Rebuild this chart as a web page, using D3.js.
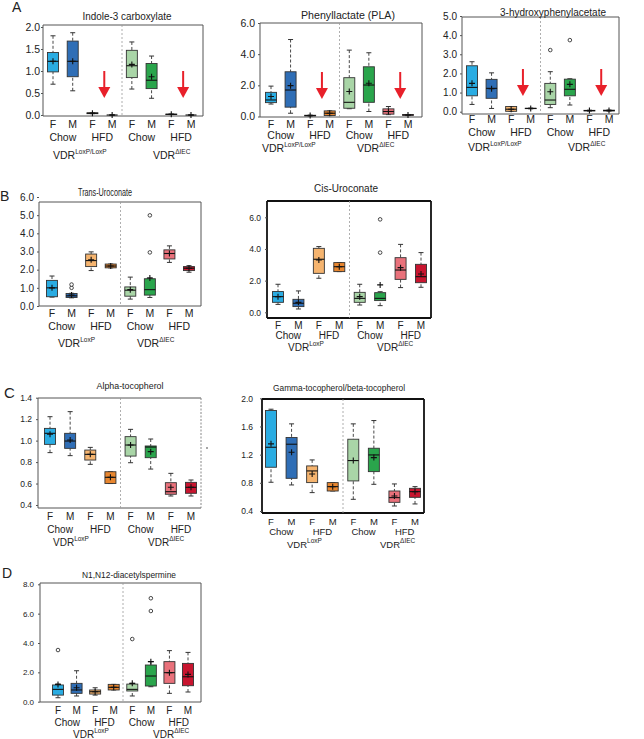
<!DOCTYPE html>
<html>
<head>
<meta charset="utf-8">
<script src="https://cdn.jsdelivr.net/npm/d3@7"></script>
<style>
body { margin: 0; background: #fff; }
svg text { font-family: "Liberation Sans", Arial, sans-serif; fill: #222; }
</style>
</head>
<body>
<div id="g-container"></div>
<script>

var groups = ["F-Chow-LoxP", "M-Chow-LoxP", "F-HFD-LoxP", "M-HFD-LoxP", "F-Chow-dIEC", "M-Chow-dIEC", "F-HFD-dIEC", "M-HFD-dIEC"];
var sexes = ["F", "M", "F", "M", "F", "M", "F", "M"];
var diets = ["Chow", "HFD", "Chow", "HFD"];
var colors = ["#2aace2", "#2f6eb6", "#f5b46f", "#e8862f", "#a9d5a7", "#2aa54c", "#e9717b", "#c8152f"];

// each row: [low whisker, q1, median, q3, high whisker, mean]
var indoleStats = [
	[0.70, 0.98, 1.22, 1.42, 1.80, 1.22],
	[0.55, 0.87, 1.22, 1.68, 1.87, 1.22],
	[0.03, 0.03, 0.04, 0.05, 0.05, 0.04],
	[0, 0, 0, 0, 0, 0],
	[0.59, 0.85, 1.12, 1.47, 1.66, 1.15],
	[0.38, 0.60, 0.79, 1.17, 1.34, 0.87],
	[0.01, 0.01, 0.015, 0.02, 0.02, 0.015],
	[0, 0, 0, 0, 0, 0]
];
var plaStats = [
	[0.80, 0.89, 1.06, 1.55, 1.95, 1.28],
	[0.21, 0.60, 1.70, 2.87, 4.94, 1.98],
	[0.03, 0.04, 0.06, 0.08, 0.09, 0.06],
	[0.06, 0.06, 0.21, 0.36, 0.36, 0.21],
	[0.50, 0.53, 0.91, 2.49, 4.26, 1.60],
	[0.32, 0.91, 2.02, 3.19, 4.09, 2.13],
	[0.12, 0.15, 0.32, 0.49, 0.64, 0.32],
	[0.06, 0.08, 0.10, 0.12, 0.13, 0.10]
];
var hpaStats = [
	[0.38, 0.83, 1.27, 2.40, 2.61, 1.48],
	[0.17, 0.70, 1.22, 1.69, 2.03, 1.20],
	[0.02, 0.02, 0.13, 0.27, 0.27, 0.13],
	[0.15, 0.16, 0.17, 0.18, 0.19, 0.17],
	[0.21, 0.38, 0.61, 1.48, 2.09, 1.04],
	[0.35, 0.83, 1.17, 1.70, 1.72, 1.43],
	[0.03, 0.04, 0.06, 0.07, 0.08, 0.06],
	[0.03, 0.04, 0.06, 0.08, 0.09, 0.06]
];
var hpaOutliers = [[4, 3.22], [5, 3.74]];

var transStats = [
	[0.49, 0.51, 1.00, 1.41, 1.65, 1.00],
	[0.45, 0.47, 0.56, 0.69, 0.70, 0.60],
	[1.95, 2.17, 2.50, 2.86, 2.98, 2.55],
	[2.10, 2.10, 2.20, 2.31, 2.31, 2.20],
	[0.38, 0.54, 0.87, 1.05, 1.59, 0.90],
	[0.47, 0.60, 0.90, 1.50, 1.54, 1.54],
	[2.40, 2.59, 2.89, 3.09, 3.31, 2.89],
	[1.86, 1.95, 2.08, 2.17, 2.22, 2.08]
];
var transOutliers = [[1, 1.0], [1, 1.18], [5, 4.99], [5, 2.95]];

var cisStats = [
	[0.50, 0.63, 0.99, 1.31, 1.77, 0.99],
	[0.21, 0.36, 0.57, 0.82, 1.35, 0.63],
	[2.15, 2.46, 3.35, 4.04, 4.15, 3.30],
	[2.57, 2.57, 2.88, 3.14, 3.14, 2.88],
	[0.46, 0.63, 0.88, 1.26, 1.77, 0.99],
	[0.42, 0.74, 0.88, 1.24, 1.30, 1.73],
	[1.56, 2.08, 2.67, 3.45, 4.29, 2.82],
	[1.58, 1.87, 2.25, 3.03, 3.77, 2.42]
];
var cisOutliers = [[5, 5.87], [5, 3.77]];

var alphaStats = [
	[0.888, 0.965, 1.068, 1.114, 1.223, 1.06],
	[0.86, 0.928, 0.996, 1.068, 1.27, 1.006],
	[0.779, 0.819, 0.872, 0.912, 0.937, 0.872],
	[0.60, 0.60, 0.658, 0.71, 0.71, 0.658],
	[0.794, 0.856, 0.959, 1.037, 1.105, 0.959],
	[0.735, 0.841, 0.94, 0.95, 1.015, 0.897],
	[0.484, 0.50, 0.524, 0.608, 0.695, 0.565],
	[0.484, 0.509, 0.565, 0.611, 0.633, 0.565]
];
var gammaStats = [
	[0.808, 1.021, 1.305, 1.827, 1.845, 1.353],
	[0.77, 0.864, 1.348, 1.443, 1.637, 1.234],
	[0.661, 0.803, 0.969, 1.04, 1.125, 0.926],
	[0.684, 0.684, 0.746, 0.803, 0.803, 0.746],
	[0.566, 0.827, 1.116, 1.419, 1.637, 1.116],
	[0.779, 0.959, 1.196, 1.291, 1.684, 1.158],
	[0.471, 0.523, 0.59, 0.684, 0.784, 0.613],
	[0.50, 0.594, 0.675, 0.722, 0.746, 0.675]
];
var spermStats = [
	[0.27, 0.45, 0.84, 1.14, 1.20, 1.18],
	[0.39, 0.57, 0.80, 1.25, 2.11, 0.95],
	[0.45, 0.52, 0.68, 0.80, 0.95, 0.68],
	[0.80, 0.80, 0.98, 1.18, 1.18, 0.98],
	[0.39, 0.73, 0.84, 1.20, 1.25, 1.25],
	[1.02, 1.07, 1.75, 2.50, 2.73, 2.73],
	[0.57, 1.25, 1.98, 2.73, 3.48, 1.98],
	[0.66, 1.09, 1.70, 2.61, 3.36, 1.86]
];
var spermOutliers = [[0, 3.52], [4, 4.27], [5, 7.05], [5, 6.18]];

// ---- layout per panel
var panels = [
	{title: "Indole-3 carboxylate", stats: indoleStats, outliers: [], arrows: true,
	 frame: [43, 203, 25, 116], yd: [0, 2], yr: [115, 27], ticks: [0, 0.5, 1, 1.5, 2], tfs: 10.5, tpad: 1,
	 cx: [53, 191], ttl: [127, 20, 89, 10], lab: [128, 141, 159], lfs: 10.5, vdr: [53, 153], sup: "LoxP/LoxP"},
	{title: "Phenyllactate (PLA)", stats: plaStats, outliers: [], arrows: true,
	 frame: [260, 422, 23, 117], yd: [0, 6], yr: [116.5, 23], ticks: [0, 2, 4, 6], tfs: 10.5, tpad: 3,
	 cx: [271, 408], ttl: [348, 19, 94, 10], lab: [128, 139, 152], lfs: 10.5, vdr: [262, 357], sup: "LoxP/LoxP"},
	{title: "3-hydroxyphenylacetate", stats: hpaStats, outliers: hpaOutliers, arrows: true,
	 frame: [462, 619, 17, 114], yd: [0, 5], yr: [111.7, 16], ticks: [0, 1, 2, 3, 4, 5], tfs: 10, tpad: 3,
	 cx: [472, 609], ttl: [553, 16, 106, 10], lab: [123, 136, 151], lfs: 10.5, vdr: [468, 568], sup: "LoxP/LoxP"},
	{title: "Trans-Uroconate", stats: transStats, outliers: transOutliers,
	 frame: [39, 201, 202, 306], yd: [0, 6], yr: [306, 197], ticks: [0, 1, 2, 3, 4, 5, 6], tfs: 10, tpad: 3,
	 cx: [52, 189], ttl: [105, 196, 54, 10.5], lab: [317, 330, 347], lfs: 10.5, vdr: [58, 137], sup: "LoxP"},
	{title: "Cis-Uroconate", stats: cisStats, outliers: cisOutliers, heavy: true,
	 frame: [267, 431, 201, 318], yd: [0, 6], yr: [312.3, 217.3], ticks: [0, 2, 4, 6], tfs: 8.5, tpad: 4,
	 cx: [278, 421], ttl: [346, 192, 64, 10], lab: [329, 339, 351], lfs: 10, vdr: [288, 377], sup: "LoxP"},
	{title: "Alpha-tocopherol", stats: alphaStats, outliers: [], dotted: true,
	 frame: [38, 201, 398, 508], yd: [0.4, 1.4], yr: [505, 397.7], ticks: [0.4, 0.6, 0.8, 1.0, 1.2, 1.4], tfs: 8.5, tpad: 4,
	 cx: [50, 191], ttl: [130, 389, 67, 9], lab: [520, 533, 546], lfs: 10, vdr: [53, 148], sup: "LoxP"},
	{title: "Gamma-tocopherol/beta-tocopherol", stats: gammaStats, outliers: [], heavy: true,
	 frame: [262, 424, 399, 513], yd: [0.4, 2.0], yr: [511, 398.3], ticks: [0.4, 0.8, 1.2, 1.6, 2.0], tfs: 8.5, tpad: 7,
	 cx: [271, 415], ttl: [339, 391, 132, 9], lab: [525, 535, 548], lfs: 9.5, vdr: [287, 380], sup: "LoxP"},
	{title: "N1,N12-diacetylspermine", stats: spermStats, outliers: spermOutliers,
	 frame: [40, 201, 583, 702], yd: [0, 8], yr: [701.7, 584.3], ticks: [0, 2, 4, 6, 8], tfs: 8, tpad: 4,
	 cx: [58, 188], ttl: [129, 578, 94, 9], lab: [714, 726, 738], lfs: 10, vdr: [73, 153], sup: "LoxP"}
];

var letters = [["A", 12, 12, 14], ["B", 0, 201, 14], ["C", 4, 398, 15], ["D", 2, 578, 14]];

var svg = d3.select("#g-container").append("svg").attr("width", 644).attr("height", 739);

letters.forEach(function(l){
	svg.append("text").attr("x", l[1]).attr("y", l[2]).style("font-size", l[3] + "px").text(l[0]);
});

function drawPanel(p){
	var g = svg.append("g");
	var f = p.frame;
	var y = d3.scaleLinear().domain(p.yd).range(p.yr);
	var x = d3.scalePoint().domain(groups).range(p.cx);
	var hw = 5.5;

	// frame
	var fc = p.heavy ? "#111" : "#555";
	var fw = p.heavy ? 1.8 : 1;
	g.append("line").attr("x1", f[0]).attr("x2", f[1]).attr("y1", f[2]).attr("y2", f[2]).attr("stroke", fc).attr("stroke-width", fw);
	g.append("line").attr("x1", f[0]).attr("x2", f[1]).attr("y1", f[3]).attr("y2", f[3]).attr("stroke", fc).attr("stroke-width", fw);
	g.append("line").attr("x1", f[0]).attr("x2", f[0]).attr("y1", f[2]).attr("y2", f[3]).attr("stroke", fc).attr("stroke-width", fw);
	g.append("line").attr("x1", f[1]).attr("x2", f[1]).attr("y1", f[2]).attr("y2", f[3])
		.attr("stroke", p.dotted ? "#888" : fc).attr("stroke-width", fw)
		.attr("stroke-dasharray", p.dotted ? "2,1.5" : null);

	// divider between genotypes
	var dx = (x(groups[3]) + x(groups[4])) / 2;
	g.append("line").attr("x1", dx).attr("x2", dx).attr("y1", f[2]).attr("y2", f[3])
		.attr("stroke", "#9a9a9a").attr("stroke-width", 0.8).attr("stroke-dasharray", "2,2");

	// y axis
	var ax = g.append("g").attr("transform", "translate(" + f[0] + ",0)")
		.call(d3.axisLeft(y).tickValues(p.ticks).tickFormat(d3.format(".1f")).tickSize(2).tickPadding(p.tpad));
	ax.select(".domain").remove();
	ax.selectAll("line").attr("stroke", "#555");
	ax.selectAll("text").style("font-size", p.tfs + "px").style("font-family", "'Liberation Sans', Arial, sans-serif").attr("fill", "#222");

	// title
	g.append("text").attr("x", p.ttl[0]).attr("y", p.ttl[1]).attr("text-anchor", "middle")
		.attr("textLength", p.ttl[2]).attr("lengthAdjust", "spacingAndGlyphs")
		.style("font-size", p.ttl[3] + "px").text(p.title);

	// boxes
	var box = g.selectAll("g.box").data(p.stats).enter().append("g").attr("class", "box")
		.attr("transform", function(d, i){ return "translate(" + x(groups[i]) + ",0)"; });

	box.append("line").attr("y1", function(d){ return y(d[4]); }).attr("y2", function(d){ return y(d[3]); })
		.attr("stroke", "#333").attr("stroke-width", 0.9).attr("stroke-dasharray", "3,2");
	box.append("line").attr("y1", function(d){ return y(d[0]); }).attr("y2", function(d){ return y(d[1]); })
		.attr("stroke", "#333").attr("stroke-width", 0.9).attr("stroke-dasharray", "3,2");
	box.append("line").attr("x1", -2.5).attr("x2", 2.5).attr("y1", function(d){ return y(d[4]); }).attr("y2", function(d){ return y(d[4]); })
		.attr("stroke", "#333").attr("stroke-width", 1);
	box.append("line").attr("x1", -2.5).attr("x2", 2.5).attr("y1", function(d){ return y(d[0]); }).attr("y2", function(d){ return y(d[0]); })
		.attr("stroke", "#333").attr("stroke-width", 1);
	box.append("rect").attr("x", -hw).attr("width", hw * 2)
		.attr("y", function(d){ return y(d[3]); })
		.attr("height", function(d){ return Math.max(0, y(d[1]) - y(d[3])); })
		.attr("fill", function(d, i){ return colors[i]; })
		.attr("stroke", "#333").attr("stroke-width", 0.9);
	box.append("line").attr("x1", -hw).attr("x2", hw).attr("y1", function(d){ return y(d[2]); }).attr("y2", function(d){ return y(d[2]); })
		.attr("stroke", "#111").attr("stroke-width", 1.1);
	box.append("path").attr("d", function(d){ var m = y(d[5]); return "M-3," + m + "H3M0," + (m - 3) + "V" + (m + 3); })
		.attr("stroke", "#111").attr("stroke-width", 1.1);

	// outliers
	g.selectAll("circle.out").data(p.outliers).enter().append("circle").attr("class", "out")
		.attr("cx", function(d){ return x(groups[d[0]]); }).attr("cy", function(d){ return y(d[1]); })
		.attr("r", 1.8).attr("fill", "#fff").attr("stroke", "#333").attr("stroke-width", 0.9);

	// red arrows for HFD groups in panel A
	if(p.arrows){
		[[2, 3], [6, 7]].forEach(function(pair){
			var ax0 = (x(groups[pair[0]]) + x(groups[pair[1]])) / 2 + 2;
			g.append("line").attr("x1", ax0).attr("x2", ax0).attr("y1", f[3] - 45).attr("y2", f[3] - 27)
				.attr("stroke", "#e8202a").attr("stroke-width", 2);
			g.append("path").attr("d", "M" + (ax0 - 6) + "," + (f[3] - 29) + "L" + (ax0 + 6) + "," + (f[3] - 29) + "L" + ax0 + "," + (f[3] - 18) + "Z")
				.attr("fill", "#e8202a");
		});
	}

	// x labels
	g.selectAll("text.sex").data(sexes).enter().append("text").attr("class", "sex")
		.attr("x", function(d, i){ return x(groups[i]); }).attr("y", p.lab[0])
		.attr("text-anchor", "middle").style("font-size", p.lfs + "px").text(function(d){ return d; });
	g.selectAll("text.diet").data(diets).enter().append("text").attr("class", "diet")
		.attr("x", function(d, i){ return (x(groups[i * 2]) + x(groups[i * 2 + 1])) / 2; }).attr("y", p.lab[1])
		.attr("text-anchor", "middle").style("font-size", p.lfs + "px").text(function(d){ return d; });

	[p.sup, "\u0394IEC"].forEach(function(s, i){
		var t = g.append("text").attr("x", p.vdr[i]).attr("y", p.lab[2]).style("font-size", p.lfs + "px");
		t.append("tspan").text("VDR");
		t.append("tspan").attr("dy", -5.5).style("font-size", "6.5px").text(s);
	});
}

panels.forEach(drawPanel);

// stray mark right of alpha-tocopherol panel
svg.append("circle").attr("cx", 207).attr("cy", 448).attr("r", 0.8).attr("fill", "#333");

</script>
</body>
</html>
